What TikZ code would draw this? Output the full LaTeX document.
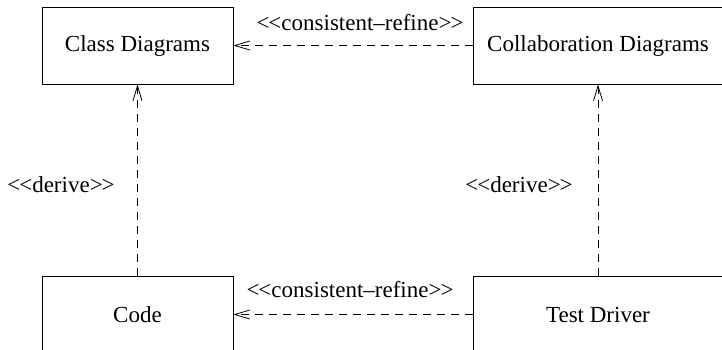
\documentclass[tikz,border=0pt]{standalone}
\usepackage{fontspec}
\setmainfont{Liberation Serif}[Ligatures=NoCommon]
\usetikzlibrary{arrows.meta}
\newcommand{\llt}{{<}\kern-1pt{<}}
\newcommand{\ggt}{{>}\kern-1pt{>}}
\begin{document}
\begin{tikzpicture}[x=1pt,y=-1pt,
  box/.style={draw, line width=0.8pt, minimum width=191pt, minimum height=77pt, inner sep=0pt,
    font=\fontsize{23}{28}\selectfont},
  wbox/.style={box, minimum width=250pt},
  lbl/.style={anchor=base, inner sep=0pt, font=\fontsize{23}{28}\selectfont},
  dep/.style={line width=0.8pt, dash pattern=on 8pt off 6pt,
    -{Straight Barb[length=15pt,width=9pt,line width=0.8pt]}}]
\useasboundingbox (0,0) rectangle (722,349);
\clip (0,0) rectangle (722,349);
\node[box]  (cd)   at (137.5,45.5)  {Class Diagrams};
\node[wbox] (col)  at (598,45.5)    {Collaboration Diagrams};
\node[box]  (code) at (137.5,314.5) {Code};
\node[wbox] (td)   at (598,314.5)   {Test Driver};
\draw[dep] (col.west) -- (cd.east);
\draw[dep] (td.west) -- (code.east);
\draw[dep] (code.north) -- (cd.south);
\draw[dep] (td.north) -- (col.south);
\node[lbl] (l1) at (360,30)  {\llt consistent–refine\ggt};
\node[lbl] (l2) at (350,297) {\llt consistent–refine\ggt};
\node[lbl] (l3) at (61,192)  {\llt derive\ggt};
\node[lbl] (l4) at (519,192) {\llt derive\ggt};
\end{tikzpicture}
\end{document}
